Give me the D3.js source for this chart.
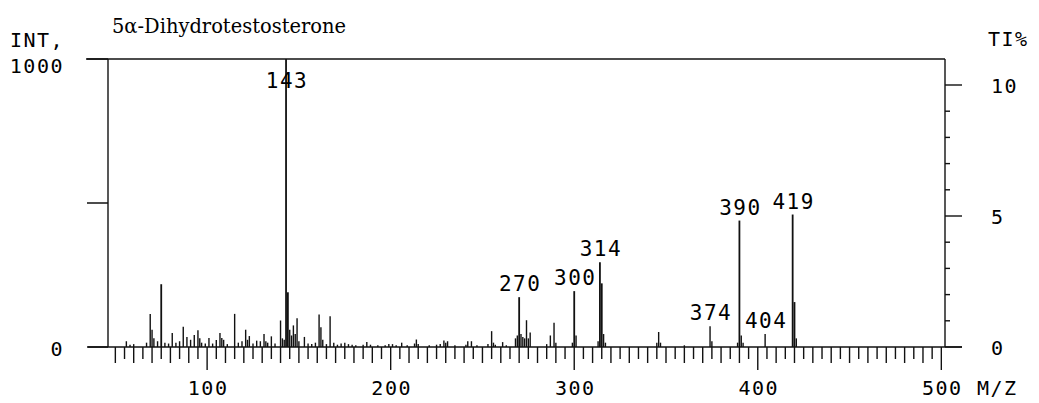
<!DOCTYPE html>
<html>
<head>
<meta charset="utf-8">
<script src="https://cdn.jsdelivr.net/npm/d3@7"></script>
<style>
  html, body { margin: 0; padding: 0; background: #fff; }
  svg { display: block; }
  .plot-text { font-family: "DejaVu Sans Mono", monospace; fill: #000; letter-spacing: 1.5px; }
  .title { font-family: "DejaVu Serif", "Liberation Serif", serif; fill: #000; }
</style>
</head>
<body>
<svg id="chart" width="1039" height="403"></svg>
<script>
// Mass spectrum of 5α-dihydrotestosterone (derivatised), relative intensity 0–1000
const mzValues = [
  56, 58, 60, 67, 69, 70, 71, 73, 75, 77, 79, 81, 83, 85, 87, 89, 91, 93, 95, 96,
  97, 99, 101, 103, 105, 107, 108, 109, 111, 115, 117, 119, 121, 122, 123, 125, 127, 129, 131, 132,
  133, 135, 137, 140, 141, 142, 143, 144, 145, 146, 147, 148, 149, 150, 153, 155, 157, 159, 161, 162,
  163, 165, 167, 169, 171, 173, 175, 177, 179, 181, 185, 187, 189, 193, 197, 199, 201, 203, 206, 209,
  213, 214, 215, 221, 225, 227, 229, 230, 231, 235, 241, 242, 244, 247, 253, 255, 256, 257, 261, 263,
  268, 269, 270, 271, 272, 273, 274, 275, 276, 285, 287, 289, 290, 299, 300, 301, 313, 314, 315, 316,
  317, 345, 346, 347, 360, 374, 375, 389, 390, 391, 392, 404, 419, 420, 421
];
const intensities = [
  20, 8, 10, 15, 115, 60, 30, 20, 218, 15, 12, 49, 15, 20, 70, 35, 25, 42, 58, 30,
  15, 12, 31, 12, 24, 49, 31, 25, 10, 115, 15, 20, 60, 25, 38, 12, 22, 20, 45, 20,
  15, 37, 12, 92, 30, 25, 1000, 190, 60, 40, 75, 45, 100, 20, 35, 12, 10, 15, 113, 69,
  25, 10, 107, 15, 8, 12, 15, 10, 8, 6, 8, 17, 8, 6, 6, 10, 10, 6, 15, 6,
  12, 26, 10, 6, 8, 10, 23, 15, 20, 6, 8, 20, 20, 6, 10, 55, 15, 8, 17, 6,
  30, 40, 173, 45, 35, 30, 93, 30, 50, 10, 40, 84, 15, 15, 194, 40, 20, 294, 221, 45,
  15, 15, 52, 15, 6, 72, 20, 15, 439, 40, 15, 45, 460, 156, 30
];
// Peaks annotated with their m/z
const labelledMz = [143, 270, 300, 314, 374, 390, 404, 419];

// Axis ticks and labels
const mzTickLabels = [100, 200, 300, 400, 500];
const intensityTickValues = [0, 500, 1000];
const intensityTickLabels = ["0", "", "1000"];
const ticPercentTicks = [0, 1, 2, 3, 4, 5, 6, 7, 8, 9, 10];
const ticPercentLabels = [0, 5, 10];

const svg = d3.select("#chart");
const frame = { left: 108, right: 945, top: 59, bottom: 347 };

const x = d3.scaleLinear().domain([46, 502]).range([frame.left, frame.right]);
const y = d3.scaleLinear().domain([0, 1000]).range([frame.bottom, frame.top]);
const yTic = d3.scaleLinear().domain([0, 10]).range([frame.bottom, 85]);

const ink = "#111";
const g = svg.append("g");

// Title
g.append("text").attr("class", "title")
  .attr("x", 112).attr("y", 33)
  .attr("font-size", 21)
  .attr("textLength", 234).attr("lengthAdjust", "spacingAndGlyphs")
  .text("5α-Dihydrotestosterone");

// Frame: top, left, right, baseline
g.append("line").attr("x1", 86).attr("x2", frame.right)
  .attr("y1", y(1000)).attr("y2", y(1000)).attr("stroke", ink).attr("stroke-width", 1.6);
g.append("line").attr("x1", frame.left).attr("x2", frame.left)
  .attr("y1", y(1000)).attr("y2", y(0)).attr("stroke", ink).attr("stroke-width", 1.4);
g.append("line").attr("x1", frame.right).attr("x2", frame.right)
  .attr("y1", y(1000)).attr("y2", y(0)).attr("stroke", ink).attr("stroke-width", 1.4);
g.append("line").attr("x1", 88).attr("x2", 962)
  .attr("y1", y(0)).attr("y2", y(0)).attr("stroke", ink).attr("stroke-width", 1.6);

// Left intensity ticks
g.selectAll(".ltick").data(intensityTickValues).enter().append("line")
  .attr("x1", 87).attr("x2", frame.left)
  .attr("y1", d => y(d)).attr("y2", d => y(d))
  .attr("stroke", ink).attr("stroke-width", 1.5);
g.selectAll(".llab").data(intensityTickValues).enter().append("text")
  .attr("class", "plot-text").attr("font-size", 20)
  .attr("x", 64).attr("y", d => y(d) + (d === 1000 ? 14 : 9))
  .attr("text-anchor", "end")
  .text((d, i) => intensityTickLabels[i]);
g.append("text").attr("class", "plot-text").attr("font-size", 20)
  .attr("x", 10).attr("y", 47).text("INT,");

// Right TIC % ticks
g.selectAll(".rtick").data(ticPercentTicks).enter().append("line")
  .attr("x1", frame.right)
  .attr("x2", d => frame.right + (d % 5 === 0 ? 17 : 5))
  .attr("y1", d => yTic(d)).attr("y2", d => yTic(d))
  .attr("stroke", ink).attr("stroke-width", 1.4);
g.selectAll(".rlab").data(ticPercentLabels).enter().append("text")
  .attr("class", "plot-text").attr("font-size", 20)
  .attr("x", 991).attr("y", d => yTic(d) + 8)
  .text(d => d);
g.append("text").attr("class", "plot-text").attr("font-size", 20)
  .attr("x", 988).attr("y", 46).text("TI%");

// Bottom m/z ticks every 5 units
const mzTicks = d3.range(50, 501, 5);
g.selectAll(".btick").data(mzTicks).enter().append("line")
  .attr("x1", d => x(d)).attr("x2", d => x(d))
  .attr("y1", y(0))
  .attr("y2", d => y(0) + (d % 100 === 0 ? 23 : d % 10 === 0 ? 16 : 12))
  .attr("stroke", ink).attr("stroke-width", 1.4);
g.selectAll(".blab").data(mzTickLabels).enter().append("text")
  .attr("class", "plot-text").attr("font-size", 20)
  .attr("x", d => x(d) + 1).attr("y", 395)
  .attr("text-anchor", "middle")
  .text(d => d);
g.append("text").attr("class", "plot-text").attr("font-size", 20)
  .attr("x", 977).attr("y", 395).text("M/Z");

// Spectrum peaks
const peaks = mzValues.map((m, i) => ({ mz: m, value: intensities[i] }));
g.selectAll(".peak").data(peaks).enter().append("line")
  .attr("x1", d => x(d.mz)).attr("x2", d => x(d.mz))
  .attr("y1", y(0)).attr("y2", d => y(d.value))
  .attr("stroke", ink)
  .attr("stroke-width", d => d.value > 150 ? 1.8 : 1.4);

// Peak annotations
const labelled = peaks.filter(p => labelledMz.includes(p.mz));
g.selectAll(".plab").data(labelled).enter().append("text")
  .attr("class", "plot-text").attr("font-size", 21)
  .attr("x", d => x(d.mz) + 1)
  .attr("y", d => Math.max(y(d.value) - 6, y(1000) + 29))
  .attr("text-anchor", "middle")
  .text(d => d.mz);
</script>
</body>
</html>
